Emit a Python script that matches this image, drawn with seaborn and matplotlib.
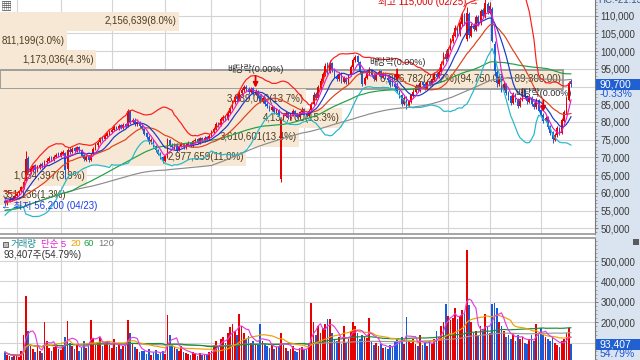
import numpy as np
import pandas as pd
import matplotlib
matplotlib.use("Agg")
import matplotlib.pyplot as plt
import seaborn as sns
from matplotlib.patches import Rectangle
from matplotlib.ticker import FuncFormatter, MultipleLocator, FixedLocator

sns.set_theme(style="white")
plt.rcParams["font.family"] = ["Liberation Sans", "Noto Sans CJK KR", "DejaVu Sans"]
plt.rcParams["axes.unicode_minus"] = False

# ---------------- data ----------------
start_date = "2020-04-23"
krx_holidays = ["2020-04-30", "2020-05-01", "2020-05-05", "2020-08-17", "2020-09-30",
                "2020-10-01", "2020-10-02", "2020-10-09", "2020-12-25", "2020-12-31",
                "2021-01-01", "2021-02-11", "2021-02-12", "2021-03-01"]
dividend_dates = ["2020-09-28", "2020-12-29", "2021-04-02"]

pre_close_k = [49.5, 50.2, 49.8, 50.6, 51.3, 50.9, 51.8, 52.4, 52.0, 53.1,
               53.8, 53.2, 54.4, 55.0, 54.6, 55.8, 56.5, 56.0, 57.2, 57.8,
               57.3, 58.5, 59.1, 58.6, 59.4, 58.8, 58.2, 58.9, 58.0, 57.4]

open_k = [57.8, 57.0, 57.7, 58.5, 58.1, 59.0, 59.9, 60.5, 61.5, 63.4,
          69.8, 66.0, 66.6, 67.8, 66.4, 67.1, 68.2, 67.4, 68.7, 69.0,
          70.0, 69.2, 70.1, 71.0, 70.5, 71.0, 71.2, 66.8, 72.2, 71.6,
          72.6, 71.9, 72.9, 72.0, 70.8, 69.4, 70.4, 69.3, 70.9, 72.6,
          73.4, 74.3, 75.6, 75.1, 76.0, 76.7, 77.2, 77.7, 78.7, 78.1,
          79.1, 78.4, 79.3, 78.8, 83.0, 80.1, 80.7, 79.3, 80.1, 78.9,
          78.1, 76.8, 75.9, 74.3, 75.0, 73.3, 72.1, 71.1, 70.1, 69.1,
          70.1, 75.0, 73.6, 72.7, 73.7, 72.1, 73.1, 73.8, 72.8, 73.4,
          74.1, 73.3, 74.5, 75.1, 74.1, 75.5, 74.7, 75.7, 75.1, 76.1,
          77.1, 78.1, 79.6, 79.1, 80.6, 81.6, 80.8, 82.5, 84.1, 85.6,
          87.2, 86.3, 88.1, 89.1, 90.0, 89.3, 88.4, 89.5, 87.9, 88.8,
          87.3, 85.9, 86.9, 85.1, 84.6, 83.5, 84.3, 82.7, 83.5, 64.0,
          81.1, 81.7, 82.6, 81.1, 82.1, 83.1, 82.3, 81.4, 82.7, 83.6,
          82.5, 81.8, 83.3, 85.2, 87.8, 86.7, 89.6, 91.6, 93.4, 96.0,
          94.1, 96.6, 94.9, 93.1, 92.0, 93.8, 91.4, 92.5, 91.1, 93.2,
          95.4, 97.4, 98.6, 96.9, 94.1, 90.7, 92.4, 93.7, 94.8, 93.4,
          91.9, 93.3, 94.3, 92.6, 93.7, 92.5, 91.9, 91.6, 90.8, 90.2,
          88.6, 87.5, 85.1, 86.9, 84.5, 85.7, 87.4, 88.5, 90.3, 88.9,
          91.2, 90.6, 89.4, 91.3, 90.5, 91.9, 93.6, 92.7, 94.1, 96.4,
          99.2, 97.7, 100.6, 102.8, 104.4, 106.8, 104.7, 107.6, 110.4, 103.5,
          110.5, 104.4, 107.2, 106.0, 109.7, 107.8, 111.5, 109.8, 113.2, 110.8,
          112.0, 102.0, 94.2, 90.8, 93.0, 89.4, 90.8, 88.4, 87.2, 85.4,
          88.0, 86.4, 84.5, 86.2, 88.9, 87.3, 85.7, 86.9, 85.2, 84.1,
          86.2, 83.4, 82.1, 80.3, 81.4, 78.8, 77.2, 75.0, 76.2, 78.4,
          76.8, 80.4, 82.6, 86.2, 91.5]

high_k = [58.2, 57.9, 58.7, 58.9, 59.5, 60.2, 60.8, 61.9, 63.4, 71.8,
          70.5, 67.4, 68.0, 68.2, 67.8, 68.5, 68.8, 69.4, 69.8, 70.3,
          70.4, 70.6, 71.3, 71.4, 71.7, 72.0, 71.6, 72.6, 72.8, 72.9,
          73.0, 73.3, 73.2, 72.3, 71.0, 70.6, 70.7, 71.3, 72.9, 74.0,
          74.6, 75.9, 76.0, 76.6, 77.2, 77.8, 78.3, 79.1, 79.0, 79.4,
          79.5, 79.6, 79.7, 83.7, 83.5, 81.2, 81.0, 80.4, 80.3, 79.3,
          78.4, 77.1, 76.2, 75.5, 75.3, 73.6, 72.5, 71.5, 70.5, 70.8,
          75.5, 75.3, 74.0, 74.1, 74.0, 73.5, 74.4, 74.1, 74.0, 74.5,
          74.4, 75.0, 75.5, 75.4, 75.8, 75.9, 76.1, 76.0, 76.5, 77.7,
          78.6, 79.9, 80.1, 81.3, 82.0, 82.1, 83.1, 84.6, 86.1, 87.6,
          87.8, 88.8, 89.6, 90.5, 90.4, 89.8, 89.9, 89.8, 89.3, 89.0,
          87.6, 87.3, 87.1, 85.6, 84.9, 84.7, 84.5, 83.9, 83.8, 81.5,
          82.3, 83.0, 82.9, 82.5, 83.6, 83.4, 82.6, 83.2, 84.1, 83.9,
          82.9, 83.7, 85.6, 88.4, 88.5, 90.4, 92.3, 94.2, 96.6, 96.8,
          97.4, 97.0, 95.2, 93.6, 94.1, 94.0, 92.9, 92.8, 93.5, 96.0,
          98.1, 99.0, 98.9, 97.2, 94.4, 93.0, 94.3, 95.5, 95.0, 93.7,
          94.0, 94.8, 94.6, 94.1, 94.0, 92.9, 92.2, 92.0, 91.4, 91.2,
          88.9, 87.8, 87.3, 87.2, 86.3, 88.0, 89.2, 90.8, 90.6, 91.6,
          91.7, 91.0, 91.7, 91.8, 92.5, 94.1, 94.0, 94.8, 97.2, 99.8,
          100.2, 101.3, 103.8, 105.4, 107.5, 107.2, 108.6, 111.0, 110.9, 112.5,
          111.0, 107.8, 107.9, 110.2, 110.3, 111.9, 112.1, 115.0, 113.8, 114.0,
          112.5, 103.0, 94.8, 93.6, 93.4, 91.3, 91.1, 88.8, 87.6, 88.4,
          88.3, 86.7, 87.0, 89.5, 89.2, 87.6, 87.4, 87.2, 85.6, 86.7,
          86.5, 83.8, 82.5, 81.8, 81.7, 79.2, 77.5, 77.0, 78.8, 78.7,
          81.0, 83.4, 87.2, 91.6, 92.0]

low_k = [56.2, 56.6, 57.4, 57.6, 57.9, 58.7, 59.5, 60.2, 61.2, 63.0,
         65.6, 65.2, 66.0, 66.0, 65.9, 66.8, 67.0, 67.0, 68.2, 68.6,
         68.9, 68.9, 69.8, 70.0, 70.1, 70.6, 64.0, 66.2, 71.0, 71.2,
         71.4, 71.6, 71.6, 70.1, 68.9, 69.0, 68.7, 69.0, 70.6, 72.2,
         73.0, 74.0, 74.6, 74.8, 75.6, 76.3, 76.9, 77.4, 77.6, 77.8,
         78.0, 78.1, 78.2, 78.6, 79.5, 79.6, 79.0, 78.9, 78.4, 77.7,
         76.2, 75.3, 73.9, 73.8, 72.8, 71.5, 70.6, 69.5, 68.4, 68.8,
         69.8, 73.0, 72.3, 72.4, 71.6, 71.8, 72.8, 72.5, 72.4, 73.1,
         72.8, 73.0, 74.2, 73.8, 73.9, 74.4, 74.4, 74.6, 74.8, 75.8,
         76.8, 77.8, 78.5, 78.8, 80.2, 80.4, 80.5, 82.2, 83.8, 85.2,
         85.9, 86.0, 87.7, 88.6, 88.7, 88.0, 88.1, 87.6, 87.5, 86.8,
         85.4, 85.5, 84.6, 83.9, 83.1, 83.2, 82.3, 82.4, 81.6, 63.0,
         80.7, 81.3, 80.8, 80.7, 81.8, 81.8, 81.0, 81.1, 82.4, 82.0,
         81.4, 81.5, 83.0, 84.9, 86.2, 86.4, 89.2, 91.2, 93.0, 93.6,
         93.8, 94.2, 92.4, 91.6, 91.7, 91.0, 90.9, 90.7, 90.8, 92.9,
         95.0, 97.0, 96.2, 93.5, 90.2, 90.3, 92.0, 93.3, 92.8, 91.5,
         91.6, 93.0, 92.3, 92.3, 92.0, 91.3, 90.0, 90.1, 89.4, 88.3,
         86.9, 84.6, 84.8, 83.6, 84.1, 85.4, 87.0, 88.2, 88.5, 88.6,
         89.9, 89.0, 89.1, 90.1, 90.2, 91.6, 92.3, 92.4, 93.8, 96.0,
         97.2, 97.4, 100.2, 102.3, 104.0, 104.0, 104.4, 107.2, 107.4, 103.0,
         103.8, 104.0, 105.6, 105.7, 107.4, 107.4, 109.5, 109.4, 110.5, 110.4,
         102.5, 93.0, 89.8, 90.2, 88.6, 88.9, 87.6, 86.3, 84.8, 85.0,
         85.6, 83.9, 84.1, 85.9, 86.6, 85.2, 85.3, 84.4, 83.6, 83.8,
         82.7, 81.4, 79.8, 79.9, 78.0, 76.3, 74.0, 74.5, 75.8, 76.4,
         76.5, 80.0, 82.3, 86.0, 89.8]

close_k = [57.0, 57.6, 58.3, 58.0, 59.2, 59.7, 60.4, 61.6, 63.0, 69.5,
           66.2, 66.8, 67.5, 66.5, 67.2, 68.0, 67.6, 68.5, 69.0, 69.8,
           69.3, 70.2, 70.8, 70.4, 71.2, 71.5, 66.5, 72.0, 71.5, 72.4,
           71.8, 72.8, 72.0, 70.5, 69.5, 70.2, 69.2, 70.8, 72.5, 73.6,
           74.2, 75.4, 75.0, 76.1, 76.8, 77.3, 77.8, 78.6, 78.0, 78.9,
           78.4, 79.2, 78.6, 83.2, 80.0, 80.6, 79.4, 79.9, 78.8, 78.2,
           76.6, 75.8, 74.4, 75.0, 73.2, 72.0, 71.0, 70.0, 69.2, 70.3,
           75.2, 73.4, 72.8, 73.6, 72.2, 73.0, 73.9, 72.9, 73.5, 74.0,
           73.2, 74.6, 75.0, 74.2, 75.4, 74.8, 75.6, 75.0, 76.0, 77.2,
           78.0, 79.4, 79.0, 80.8, 81.5, 80.9, 82.6, 84.0, 85.5, 87.0,
           86.4, 88.2, 89.0, 89.8, 89.2, 88.5, 89.4, 88.0, 88.6, 87.2,
           86.0, 86.8, 85.0, 84.4, 83.6, 84.2, 82.8, 83.4, 82.0, 81.0,
           81.8, 82.5, 81.2, 82.0, 83.0, 82.2, 81.5, 82.8, 83.5, 82.4,
           81.9, 83.2, 85.0, 87.5, 86.8, 89.8, 91.5, 93.5, 95.8, 94.2,
           96.5, 94.8, 93.0, 92.2, 93.6, 91.5, 92.4, 91.2, 93.0, 95.5,
           97.5, 98.4, 96.8, 94.0, 90.8, 92.5, 93.8, 94.6, 93.2, 92.0,
           93.5, 94.2, 92.8, 93.6, 92.4, 91.8, 90.5, 90.6, 90.0, 88.8,
           87.4, 85.2, 86.8, 84.6, 85.8, 87.5, 88.6, 90.2, 89.0, 91.0,
           90.4, 89.5, 91.2, 90.6, 92.0, 93.5, 92.8, 94.2, 96.5, 99.0,
           97.8, 100.5, 103.0, 104.5, 106.5, 104.8, 107.8, 110.2, 108.0, 110.8,
           104.5, 107.0, 106.2, 109.5, 108.0, 111.2, 110.0, 113.5, 111.0, 112.8,
           103.0, 94.5, 91.0, 92.8, 89.5, 90.6, 88.2, 87.0, 85.5, 87.8,
           86.2, 84.6, 86.4, 88.8, 87.2, 85.8, 86.8, 85.0, 84.2, 86.0,
           83.2, 82.0, 80.4, 81.2, 78.6, 77.0, 75.2, 76.4, 78.2, 77.0,
           80.5, 82.8, 86.5, 91.0, 90.7]

volume_k = [55, 40, 35, 30, 45, 38, 32, 60, 140, 329,
            160, 90, 70, 55, 85, 60, 50, 203, 110, 75,
            60, 80, 95, 70, 65, 90, 130, 206, 100, 85,
            70, 95, 60, 80, 110, 75, 95, 211, 120, 90,
            100, 130, 85, 95, 110, 90, 75, 120, 80, 95,
            70, 85, 90, 211, 150, 95, 80, 70, 55, 60,
            60, 45, 70, 40, 55, 65, 45, 50, 60, 45,
            236, 140, 95, 80, 70, 60, 85, 55, 50, 45,
            40, 55, 45, 35, 50, 40, 45, 38, 55, 60,
            90, 110, 85, 120, 130, 100, 150, 175, 190, 160,
            140, 240, 180, 150, 120, 135, 100, 110, 95, 90,
            192, 110, 95, 85, 75, 90, 70, 80, 85, 150,
            90, 75, 60, 70, 85, 60, 55, 75, 80, 65,
            70, 100, 294, 200, 140, 180, 150, 170, 190, 216,
            215, 150, 120, 110, 130, 95, 183, 100, 120, 160,
            200, 180, 150, 120, 140, 130, 125, 220, 110, 90,
            100, 85, 95, 75, 80, 70, 90, 85, 110, 120,
            100, 130, 95, 226, 110, 100, 120, 95, 85, 138,
            90, 100, 85, 110, 95, 120, 156, 130, 180, 200,
            289, 230, 210, 220, 270, 215, 230, 260, 240, 555,
            285, 200, 150, 160, 140, 180, 165, 240, 175, 150,
            290, 293, 270, 200, 180, 160, 130, 140, 120, 150,
            110, 140, 120, 130, 100, 95, 120, 140, 110, 192,
            150, 170, 140, 130, 120, 110, 130, 100, 90, 80,
            110, 120, 150, 170.481, 93.407]

# price-by-volume (매물대) bins
pv_upper = [111100, 105650, 100200, 94750, 89300, 83850, 78400, 72950, 67500, 62050]
pv_lower = [105650, 100200, 94750, 89300, 83850, 78400, 72950, 67500, 62050, 56600]
pv_volume = [2156639, 811199, 1173036, 6806782, 3689010, 4137700, 3610601, 2977659, 1054397, 351136]
pv_pct = [8.0, 3.0, 4.3, 25.2, 13.7, 15.3, 13.4, 11.0, 3.9, 1.3]

price_ticks = [50000, 55000, 60000, 65000, 70000, 75000, 80000, 85000, 90000,
               95000, 100000, 105000, 110000]
volume_ticks = [100000, 200000, 300000, 400000, 500000]

# ---------------- prep ----------------
N = len(close_k)
for arr in (open_k, high_k, low_k, volume_k):
    assert len(arr) == N, len(arr)
o = np.array(open_k) * 1000
h = np.array(high_k) * 1000
l = np.array(low_k) * 1000
c = np.array(close_k) * 1000
vol = np.array(volume_k) * 1000
idx = np.arange(N)
dates = pd.bdate_range(start_date, periods=N, freq="C", holidays=krx_holidays)

npre = len(pre_close_k)
sc = pd.Series(np.r_[np.array(pre_close_k) * 1000, c])
def ma(s, w):
    return s.rolling(w, min_periods=1).mean().values
ma5 = ma(sc, 5)[npre:]
ma10 = ma(sc, 10)[npre:]
ma20 = ma(sc, 20)[npre:]
ma60 = ma(sc, 60)[npre:]
ma120 = ma(sc, 120)[npre:]
sd20 = sc.rolling(20, min_periods=1).std(ddof=0).values[npre:]
bb_up = ma20 + 2 * sd20
bb_dn = ma20 - 2 * sd20

sv = pd.Series(vol)
vma5, vma20, vma60, vma120 = ma(sv, 5), ma(sv, 20), ma(sv, 60), ma(sv, 120)

RED = "#e60000"
BLUE = "#1a5ad8"
up = c >= o
cols = np.where(up, RED, BLUE)

# ---------------- layout ----------------
W, H = 640, 360
fig = plt.figure(figsize=(6.4, 3.6), dpi=100, facecolor="white")
def fx(px): return px / W
def fy(py): return 1 - py / H

PLOT_R = 595
X0, DX = 5.0, 2.32
xlim = ((0 - X0) / DX, (PLOT_R - X0) / DX)

fig.add_artist(Rectangle((fx(PLOT_R), 0), fx(W - PLOT_R), 1, transform=fig.transFigure,
                         fc="#dae4f0", ec="none", zorder=-5))

ax = fig.add_axes([0, fy(234), fx(PLOT_R), (234 + 8) / H])
axv = fig.add_axes([0, fy(363.2), fx(PLOT_R), (363.2 - 238) / H])

p_top = 110000 + (15.7 + 8) / 0.003543
p_bot = 110000 - (234 - 15.7) / 0.003543
v_top = (363.2 - 238) / 20.43 * 100000
ax.set_xlim(xlim)
ax.set_ylim(p_bot, p_top)
axv.set_xlim(xlim)
axv.set_ylim(0, v_top)

last_close = c[-1]
last_vol = vol[-1]
price_fmt = FuncFormatter(lambda v, p: "" if abs(v - last_close) < 2500 else f"{v:,.0f}")
vol_fmt = FuncFormatter(lambda v, p: "" if abs(v - last_vol) < 50000 else f"{v:,.0f}")

month_pos = [i for i in range(1, N) if dates[i].month != dates[i - 1].month]
for a in (ax, axv):
    a.set_facecolor("white")
    a.yaxis.tick_right()
    a.set_xticks(month_pos)
    a.tick_params(axis="x", length=0, labelbottom=False)
    a.tick_params(axis="y", which="major", direction="out", length=2.5, width=0.6,
                  color="#6a6a6a", labelsize=7, labelcolor="#3a3a3a", pad=1.5)
    a.tick_params(axis="y", which="minor", direction="out", length=1.3, width=0.5, color="#8a8a8a")
    a.grid(True, which="major", color="#d4d4d4", lw=0.8)
    a.set_axisbelow(True)
    for s in a.spines.values():
        s.set_visible(False)
    a.spines["right"].set_visible(True)
    a.spines["right"].set_color("#7a7a7a")
    a.spines["right"].set_linewidth(0.8)
ax.spines["bottom"].set_visible(True)
ax.spines["bottom"].set_color("#9a9a9a")
axv.spines["top"].set_visible(True)
axv.spines["top"].set_color("#9a9a9a")
ax.yaxis.set_major_locator(FixedLocator(price_ticks))
ax.yaxis.set_minor_locator(MultipleLocator(1000))
ax.yaxis.set_major_formatter(price_fmt)
axv.yaxis.set_major_locator(FixedLocator(volume_ticks))
axv.yaxis.set_minor_locator(MultipleLocator(20000))
axv.yaxis.set_major_formatter(vol_fmt)

# ---------------- price-by-volume bars ----------------
full_w = xlim[1] - xlim[0]
pv_scale = 0.946 * full_w / max(pv_pct)
pv_texts = []
for hi, lo, v, p in zip(pv_upper, pv_lower, pv_volume, pv_pct):
    w = p * pv_scale
    is_max = p == max(pv_pct)
    ax.add_patch(Rectangle((xlim[0], lo), w, hi - lo, fc="#f6e8d5",
                           ec="#9d9d9d" if is_max else "none", lw=1.4 if is_max else 0, zorder=0.6))
    txt = f"{v:,}({p:.1f}%)"
    if is_max:
        txt += f"({hi:,.2f} ~ {lo:,.2f})"
    t = ax.text(xlim[0] + w - 2 / DX, (hi + lo) / 2, txt, ha="right", va="center",
                fontsize=7, color="#4e3b1f", zorder=1.5)
    pv_texts.append(t)

fig.canvas.draw()
renderer = fig.canvas.get_renderer()
ax_x0 = ax.get_window_extent(renderer).x0
for t in pv_texts:
    bb = t.get_window_extent(renderer)
    if bb.x0 < ax_x0 + 2:
        t.set_ha("left")
        t.set_x(xlim[0] + 3 / DX)

# ---------------- candles ----------------
ax.vlines(idx, l, h, colors=cols, lw=0.7, zorder=3)
ax.bar(idx, np.maximum(np.abs(c - o), 80), bottom=np.minimum(o, c), width=0.72,
       color=cols, linewidth=0, zorder=3.1)

for arr, colr in [(ma120, "#8c8c8c"), (ma60, "#1fa040"), (bb_dn, "#22b8c8"),
                  (bb_up, "#ff1a1a"), (ma20, "#e0401a"), (ma10, "#1a36c8"), (ma5, "#e41ec8")]:
    sns.lineplot(x=idx, y=arr, ax=ax, color=colr, linewidth=0.85, zorder=4, legend=False)
ax.set_xlim(xlim)
ax.set_ylim(p_bot, p_top)
ax.set_xlabel("")
ax.set_ylabel("")

# ---------------- volume ----------------
axv.bar(idx, vol, width=0.72, color=cols, linewidth=0, zorder=2)
for arr, colr in [(vma120, "#9a9a9a"), (vma60, "#159035"), (vma20, "#f0a000"), (vma5, "#e040e0")]:
    sns.lineplot(x=idx, y=arr, ax=axv, color=colr, linewidth=0.85, zorder=3, legend=False)
axv.set_xlim(xlim)
axv.set_ylim(0, v_top)
axv.set_xlabel("")
axv.set_ylabel("")

# ---------------- annotations ----------------
for d in dividend_dates:
    i = dates.get_loc(pd.Timestamp(d))
    ax.annotate("", xy=(i, h[i]), xycoords="data", xytext=(0, 13), textcoords="offset pixels",
                arrowprops=dict(arrowstyle="-|>", color="#e00000", lw=1.3, mutation_scale=7,
                                shrinkA=0, shrinkB=1), zorder=6)
    ax.annotate("배당락(0.00%)", xy=(i, h[i]), xycoords="data", xytext=(0, 20),
                textcoords="offset pixels", ha="center", va="center", fontsize=6.5,
                color="#2a2a2a", zorder=6)

imax = int(np.argmax(h))
imin = int(np.argmin(l))
ax.annotate(f"최고 {h[imax]:,.0f} ({dates[imax]:%m/%d}) →", xy=(imax, h[imax]), xycoords="data",
            xytext=(-6, -4), textcoords="offset pixels", ha="right", va="center",
            fontsize=7, color="#e00000", annotation_clip=False, zorder=6)
ax.annotate(f"← 최저 {l[imin]:,.0f} ({dates[imin]:%m/%d})", xy=(imin, l[imin]), xycoords="data",
            xytext=(-4, 0), textcoords="offset pixels", ha="left", va="center",
            fontsize=7, color="#1a3de0", annotation_clip=False, zorder=6)

fig.text(fx(1), fy(6), "▦", fontsize=8, color="#505050", va="center", ha="left")
fig.text(fx(598), fy(0), "HC:-21.13", fontsize=7, color="#3c5a8c", va="center", ha="left")

# volume legend
fig.add_artist(Rectangle((fx(3), fy(246.5)), fx(5), 5 / H, transform=fig.transFigure,
                         fc="#bdbdbd", ec="#555555", lw=0.6))
for xpx, s, colr in [(11, "거래량", "#228c98"), (41, "단순 5", "#e020d0"), (70, "20", "#eaa000"),
                     (84, "60", "#1fa040"), (98, "120", "#7a7a7a")]:
    fig.text(fx(xpx), fy(244), s, fontsize=6.8, color=colr, va="center", ha="left")
fig.text(fx(4), fy(254.5), f"{vol[-1]:,.0f}주({vol[-1] / vol[-2] * 100:.2f}%)", fontsize=7,
         color="#333333", va="center", ha="left")
fig.add_artist(Rectangle((fx(633), fy(245)), fx(6), 6 / H, transform=fig.transFigure,
                         fc="#5a5a5a", ec="none"))

inv = fig.transFigure.inverted()
def value_box(a, value, txt, sub):
    yf = inv.transform(a.transData.transform((0, value)))[1]
    fig.add_artist(Rectangle((fx(596), yf - 5.5 / H), fx(44), 11 / H, transform=fig.transFigure,
                             fc="#2060d0", ec="none", zorder=5))
    fig.text(fx(600), yf, txt, fontsize=7.5, color="white", va="center", ha="left", zorder=6)
    fig.text(fx(600), yf - 10 / H, sub, fontsize=7.5, color="#1f55d8", va="center", ha="left", zorder=6)

chg = (c[-1] - c[-2]) / c[-2] * 100
value_box(ax, c[-1], f"{c[-1]:,.0f}", f"{chg:.2f}%")
value_box(axv, vol[-1], f"{vol[-1]:,.0f}", f"{vol[-1] / vol[-2] * 100:.2f}%")

fig.savefig("out.png", dpi=100, facecolor="white")
